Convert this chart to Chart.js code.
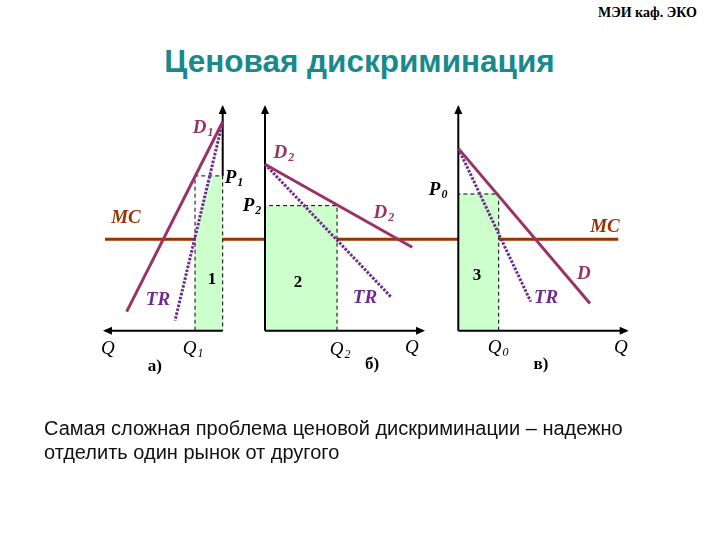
<!DOCTYPE html>
<html>
<head>
<meta charset="utf-8">
<script src="https://cdn.jsdelivr.net/npm/chart.js@4.4.0/dist/chart.umd.min.js"></script>
<style>
  body { margin:0; background:#fff; }
  #page { position:relative; width:720px; height:540px; overflow:hidden; background:#fff; }
  #page canvas { position:absolute; left:0; top:0; }
  .hdr { position:absolute; left:598px; top:5px; font:bold 14px "Liberation Serif", serif; color:#000; }
  .ttl { position:absolute; left:0; top:43px; width:719px; text-align:center; font:bold 31.5px "Liberation Sans", Arial, sans-serif; color:#18898C; }
  .note { position:absolute; left:44px; top:416px; font:20px "Liberation Sans", Arial, sans-serif; line-height:24px; color:#111; }
</style>
</head>
<body>
<div id="page">
  <div class="hdr">МЭИ каф. ЭКО</div>
  <div class="ttl">Ценовая дискриминация</div>
  <canvas id="pa" width="720" height="540"></canvas>
  <canvas id="pb" width="720" height="540"></canvas>
  <canvas id="pc" width="720" height="540"></canvas>
  <div class="note">Самая сложная проблема ценовой дискриминации – надежно<br>отделить один рынок от другого</div>
</div>
<script>
// common values (Q and P in axis units 0..10)
var mc = 4.09;

// панель а) – axis Q is drawn to the left
var demandA = [[0, 9.34], [8.16, 0.85]];
var trA = [[0, 9.34], [4.05, 0.45]];
var priceA = 6.92, qtyA = 2.35;
var gainA = [[0, 0], [0, 6.92], [1.10, 6.92], [2.35, 4.09], [2.35, 0]];
var mcA = [[0, mc], [10, mc]];

// панель б)
var demandB = [[0, 7.44], [9.32, 3.73]];
var trB = [[0, 7.44], [7.96, 1.52]];
var priceB = 5.59, qtyB = 4.56;
var mcB = [[-2.68, mc], [12.23, mc]];

// панель в)
var demandC = [[0, 8.15], [7.82, 1.22]];
var trC = [[0, 8.15], [4.30, 1.30]];
var priceC = 6.11, qtyC = 2.40;
var mcC = [[0, mc], [9.5, mc]];

var COL_D = '#993366', COL_TR = '#6E2A8E', COL_MC = '#993300', COL_G = '#CCFFCC';
var F_LBL = 'bold italic 19px "Liberation Serif", serif';
var F_Q = 'italic 19px "Liberation Serif", serif';
var F_NUM = 'bold 17px "Liberation Serif", serif';

function pts(a){ return a.map(function(p){ return {x:p[0], y:p[1]}; }); }

function seg(a, color, width, dash, order){
  return { data: pts(a), showLine:true, borderColor:color, borderWidth:width, borderDash:dash || [],
           pointRadius:0, fill:false, clip:false, order:order, tension:0 };
}

function area(a){
  return { data: pts(a), showLine:true, borderWidth:0, borderColor:'rgba(0,0,0,0)', backgroundColor:COL_G,
           fill:'shape', pointRadius:0, clip:false, order:6, tension:0 };
}

var marks = {
  id: 'marks',
  afterDatasetsDraw: function(chart, args, opts){
    var ctx = chart.ctx, x = chart.scales.x, y = chart.scales.y;
    // arrow heads on the axes
    ctx.save();
    ctx.fillStyle = '#000';
    var x0 = x.getPixelForValue(0), y0 = y.getPixelForValue(0);
    var xe = x.getPixelForValue(10), ye = y.getPixelForValue(10);
    var d = xe > x0 ? 1 : -1;
    ctx.beginPath();
    ctx.moveTo(xe + d*2, y0); ctx.lineTo(xe - d*7, y0 - 4); ctx.lineTo(xe - d*7, y0 + 4); ctx.closePath(); ctx.fill();
    ctx.beginPath();
    ctx.moveTo(x0, ye - 2); ctx.lineTo(x0 - 4, ye + 7); ctx.lineTo(x0 + 4, ye + 7); ctx.closePath(); ctx.fill();
    ctx.restore();

    (opts.items || []).forEach(function(l){
      var px = x.getPixelForValue(l.q), py = y.getPixelForValue(l.p);
      ctx.save();
      ctx.textBaseline = 'middle';
      ctx.textAlign = 'left';
      ctx.fillStyle = l.color || '#000';
      ctx.font = l.font;
      var w1 = ctx.measureText(l.t).width, w2 = 0;
      var sf = l.font.replace(/\d+px/, '12px');
      if (l.s) { ctx.font = sf; w2 = ctx.measureText(l.s).width + 1; }
      var sx = px - (w1 + w2) / 2;
      ctx.font = l.font;
      ctx.fillText(l.t, sx, py);
      if (l.s) { ctx.font = sf; ctx.fillText(l.s, sx + w1 + 1, py + 5); }
      ctx.restore();
    });
  }
};

function panel(id, pad, reverse, datasets, items){
  return new Chart(document.getElementById(id), {
    type: 'scatter',
    data: { datasets: datasets },
    options: {
      responsive: false,
      animation: false,
      devicePixelRatio: 1,
      layout: { padding: pad },
      scales: {
        x: { type:'linear', min:0, max:10, reverse:reverse, display:false },
        y: { type:'linear', min:0, max:10, display:false }
      },
      plugins: { legend:{display:false}, tooltip:{enabled:false}, marks:{ items: items } },
      events: []
    },
    plugins: [marks]
  });
}

panel('pa', {left:105, right:497.3, top:107, bottom:209.3}, true, [
  seg(demandA, COL_D, 3, null, 0),
  seg(trA, COL_TR, 3, [2.5, 1.5], 1),
  seg([[qtyA, 0], [qtyA, priceA], [0, priceA], [0, 0]], '#000', 1, [4, 3], 2),
  seg([[0, 0], [10, 0]], '#000', 2, null, 3),
  seg([[0, priceA], [0, 10]], '#000', 2, null, 3),
  area(gainA),
  seg(mcA, COL_MC, 3, null, 7)
], [
  {t:'D', s:'1', q:1.67, p:9.05, color:COL_D, font:F_LBL},
  {t:'P', s:'1', q:-0.96, p:6.82, font:F_LBL},
  {t:'MC', q:8.22, p:5.04, color:COL_MC, font:F_LBL},
  {t:'TR', q:5.5, p:1.37, color:COL_TR, font:F_LBL},
  {t:'1', q:0.91, p:2.27, font:F_NUM},
  {t:'Q', q:9.75, p:-0.82, font:F_Q},
  {t:'Q', s:'1', q:2.52, p:-0.82, font:F_Q},
  {t:'а)', q:5.76, p:-1.62, font:F_NUM}
]);

panel('pb', {left:265, right:297, top:107, bottom:209.3}, false, [
  seg(demandB, COL_D, 3, null, 0),
  seg(trB, COL_TR, 3, [2.5, 1.5], 1),
  seg([[qtyB, 0], [qtyB, priceB], [0, priceB]], '#000', 1, [4, 3], 2),
  seg([[0, 0], [10, 0]], '#000', 2, null, 3),
  seg([[0, 0], [0, 10]], '#000', 2, null, 3),
  area([[0, 0], [0, priceB], [qtyB, priceB], [qtyB, 0]]),
  seg(mcB, COL_MC, 3, null, 7)
], [
  {t:'D', s:'2', q:1.2, p:7.94, color:COL_D, font:F_LBL},
  {t:'P', s:'2', q:-0.82, p:5.57, font:F_LBL},
  {t:'D', s:'2', q:7.53, p:5.26, color:COL_D, font:F_LBL},
  {t:'2', q:2.09, p:2.13, font:F_NUM},
  {t:'TR', q:6.33, p:1.46, color:COL_TR, font:F_LBL},
  {t:'Q', s:'2', q:4.75, p:-0.86, font:F_Q},
  {t:'б)', q:6.77, p:-1.5, font:F_NUM},
  {t:'Q', q:9.3, p:-0.78, font:F_Q}
]);

panel('pc', {left:458.3, right:93.3, top:107, bottom:209.3}, false, [
  seg(demandC, COL_D, 3, null, 0),
  seg(trC, COL_TR, 3, [2.5, 1.5], 1),
  seg([[qtyC, 0], [qtyC, priceC], [0, priceC]], '#000', 1, [4, 3], 2),
  seg([[0, 0], [10, 0]], '#000', 2, null, 3),
  seg([[0, 0], [0, 10]], '#000', 2, null, 3),
  area([[0, 0], [0, priceC], [qtyC, priceC], [qtyC, 0]]),
  seg(mcC, COL_MC, 3, null, 7)
], [
  {t:'P', s:'0', q:-1.2, p:6.29, font:F_LBL},
  {t:'MC', q:8.71, p:4.64, color:COL_MC, font:F_LBL},
  {t:'3', q:1.11, p:2.45, font:F_NUM},
  {t:'D', q:7.46, p:2.53, color:COL_D, font:F_LBL},
  {t:'TR', q:5.21, p:1.46, color:COL_TR, font:F_LBL},
  {t:'Q', s:'0', q:2.36, p:-0.78, font:F_Q},
  {t:'в)', q:4.91, p:-1.5, font:F_NUM},
  {t:'Q', q:9.65, p:-0.78, font:F_Q}
]);
</script>
</body>
</html>
